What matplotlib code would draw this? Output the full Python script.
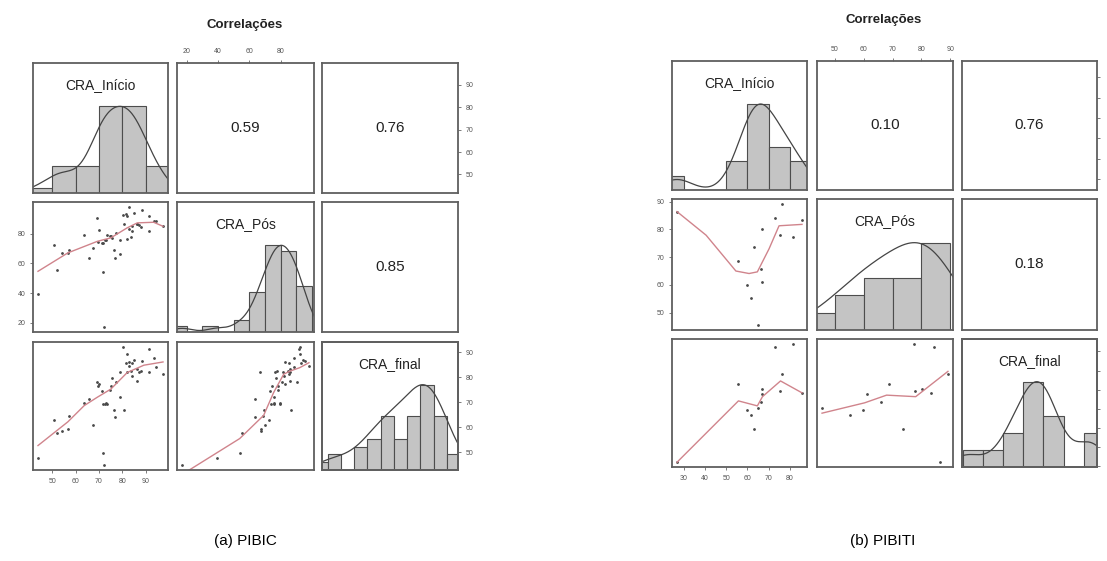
import numpy as np
import matplotlib
matplotlib.use("Agg")
import matplotlib.pyplot as plt

plt.rcParams["font.family"] = ["Liberation Sans", "DejaVu Sans"]

# PIBIC students: CRA at entry, during the programme and at the end
pibic_inicio = [72.3, 43.9, 71.7, 52.1, 54.0, 56.7, 67.3, 50.7, 57.1, 76.8,
                76.3, 80.8, 71.8, 72.6, 73.3, 63.7, 65.9, 79.1, 71.3, 74.8,
                75.1, 70.1, 69.1, 86.2, 75.5, 84.3, 97.5, 79.1, 82.2, 87.2,
                91.4, 83.6, 86.5, 84.3, 82.9, 88.6, 93.5, 82.2, 91.4, 80.5,
                69.8, 73.0, 77.5, 83.0, 85.0, 88.0, 81.5, 94.5]
pibic_pos = [17.0, 39.3, 53.8, 55.3, 67.2, 67.2, 70.2, 72.3, 68.7, 63.6,
             69.2, 86.6, 73.8, 75.5, 79.3, 79.3, 63.4, 75.5, 73.4, 78.1,
             78.1, 82.7, 90.6, 86.2, 77.0, 81.9, 85.0, 66.5, 76.4, 85.6,
             81.6, 77.5, 86.2, 85.1, 82.9, 95.7, 88.3, 92.1, 91.7, 92.2,
             74.5, 76.0, 80.5, 98.0, 94.0, 84.5, 93.0, 88.5]
pibic_final = [44.8, 47.6, 49.8, 57.9, 58.5, 59.5, 61.1, 63.1, 64.6, 64.2,
               66.8, 67.0, 69.5, 69.2, 69.4, 69.8, 71.4, 72.0, 74.6, 74.8,
               76.7, 77.3, 78.2, 78.6, 79.8, 80.6, 81.3, 82.0, 82.0, 82.0,
               82.0, 82.6, 83.5, 85.9, 86.0, 86.6, 87.9, 89.2, 91.5, 92.3,
               76.5, 69.7, 78.0, 84.5, 87.0, 82.5, 85.6, 84.0]

# PIBITI students
pibiti_inicio = [26.9, 55.8, 59.6, 61.9, 63.0, 65.0, 66.4, 66.9, 67.1, 73.0,
                 75.2, 76.1, 81.4, 85.7]
pibiti_pos = [86.4, 68.7, 59.8, 55.2, 73.6, 45.5, 65.9, 61.0, 80.2, 84.2,
              77.8, 89.2, 77.3, 83.3]
pibiti_final = [46.1, 66.6, 59.7, 58.3, 54.7, 60.3, 61.9, 63.8, 65.3, 76.1,
                64.6, 69.0, 77.0, 64.2]

var_names = ["CRA_Início", "CRA_Pós", "CRA_final"]

# correlations printed in the upper panels: (ini, pos), (ini, final), (pos, final)
pibic_cor = ["0.59", "0.76", "0.85"]
pibiti_cor = ["0.10", "0.76", "0.18"]

# histogram breaks for each variable
pibic_breaks = [np.arange(40, 101, 10), np.arange(10, 101, 10), np.arange(40, 96, 5)]
pibiti_breaks = [np.arange(20, 91, 10), np.arange(40, 91, 10), np.arange(45, 81, 5)]

# axis ticks for each variable
pibic_ticks = [[50, 60, 70, 80, 90], [20, 40, 60, 80], [50, 60, 70, 80, 90]]
pibiti_ticks = [[30, 40, 50, 60, 70, 80], [50, 60, 70, 80, 90], [45, 50, 55, 60, 65, 70, 75]]

# lowess smooths (x, y) for the lower panels
pibic_smooth = {
    (1, 0): ([43.9, 56.7, 69.4, 75.1, 82.2, 86.5, 93.5, 97.5],
             [54.6, 67.0, 74.8, 77.1, 83.9, 87.2, 87.6, 84.9]),
    (2, 0): ([43.9, 56.7, 63.7, 69.4, 75.1, 82.2, 89.3, 97.5],
             [52.7, 62.2, 68.7, 72.1, 75.3, 82.0, 84.9, 86.2]),
    (2, 1): ([17.0, 53.8, 69.1, 75.5, 81.9, 86.2, 92.1, 98.0],
             [41.1, 55.5, 64.8, 74.0, 81.3, 82.6, 83.9, 85.9]),
}
pibiti_smooth = {
    (1, 0): ([26.9, 40.6, 54.6, 60.8, 64.7, 70.2, 74.9, 85.7],
             [86.4, 77.9, 65.0, 64.1, 64.7, 73.0, 81.3, 81.8]),
    (2, 0): ([26.9, 55.8, 64.7, 67.1, 75.6, 85.7],
             [46.1, 62.1, 60.8, 63.2, 67.3, 64.2]),
    (2, 1): ([45.5, 60.3, 67.9, 78.0, 89.2],
             [58.9, 61.6, 63.6, 63.2, 69.8]),
}

W, H = 1107, 561
FRAME = "#5f5f5f"
TICK_KW = dict(direction="out", length=2.5, width=0.6, colors="#666666",
               labelsize=5, labelcolor="#555555", pad=3)


def px_box(x0, x1, y0, y1):
    return [x0 / W, 1 - y1 / H, (x1 - x0) / W, (y1 - y0) / H]


def padded(v):
    lo, hi = min(v), max(v)
    d = 0.04 * (hi - lo)
    return lo - d, hi + d


def density(v):
    # gaussian kernel, bandwidth "nrd" scaled by 1.2
    v = np.asarray(v, dtype=float)
    iqr = np.subtract(*np.percentile(v, [75, 25]))
    bw = 1.06 * min(np.std(v, ddof=1), iqr / 1.34) * len(v) ** -0.2 * 1.2
    grid = np.linspace(v.min() - 3 * bw, v.max() + 3 * bw, 512)
    d = np.exp(-0.5 * ((grid[:, None] - v[None, :]) / bw) ** 2).sum(axis=1)
    return grid, d / d.max()


def style(ax):
    ax.set_xticks([])
    ax.set_yticks([])
    for s in ax.spines.values():
        s.set_color(FRAME)
        s.set_linewidth(1.3)


def pairs(fig, cols, rows, data, breaks, ticks, cors, smooth, right_labels=True):
    lims = [padded(v) for v in data]
    cor_idx = {(0, 1): 0, (0, 2): 1, (1, 2): 2}
    for i in range(3):
        for j in range(3):
            ax = fig.add_axes(px_box(cols[j][0], cols[j][1], rows[i][0], rows[i][1]))
            style(ax)
            ax.set_xlim(lims[j])
            if i == j:
                counts, edges = np.histogram(data[i], bins=breaks[i])
                ax.bar(edges[:-1], counts / counts.max(), width=np.diff(edges),
                       align="edge", color="#c4c4c4", edgecolor="#4d4d4d", linewidth=0.8)
                gx, gy = density(data[i])
                ax.plot(gx, gy, color="#444444", lw=0.9)
                ax.set_ylim(0, 1.5)
                ax.text(0.5, 0.83, var_names[i], transform=ax.transAxes,
                        ha="center", va="center", fontsize=10, color="#222222")
            elif i > j:
                ax.set_ylim(lims[i])
                ax.plot(data[j], data[i], linestyle="none", marker=".",
                        ms=2.0, color="#4a4a4a")
                sx, sy = smooth[(i, j)]
                ax.plot(sx, sy, color="#d0848c", lw=1.0)
            else:
                ax.set_ylim(lims[i])
                ax.text(0.5, 0.5, cors[cor_idx[(i, j)]], transform=ax.transAxes,
                        ha="center", va="center", fontsize=11, color="#222222")

            # outer axes alternate sides like an R pairs plot
            if i == 0 and j % 2 == 1:
                ax.xaxis.tick_top()
                ax.set_xticks(ticks[j])
            if i == 2 and j % 2 == 0:
                ax.set_xticks(ticks[j])
            if j == 0 and i % 2 == 1:
                ax.set_yticks(ticks[i])
            if j == 2 and i % 2 == 0:
                target = ax
                if i == j:
                    target = ax.twinx()
                    target.set_ylim(lims[i])
                    style(target)
                else:
                    ax.yaxis.tick_right()
                target.set_yticks(ticks[i])
                if not right_labels:
                    # these labels fall past the right edge of the figure
                    target.set_yticklabels([])
                target.tick_params(**TICK_KW)
            ax.tick_params(**TICK_KW)


fig = plt.figure(figsize=(W / 100, H / 100), dpi=100)

pairs(fig,
      cols=[(33, 168), (177, 314), (322, 458)],
      rows=[(63, 193), (202, 332), (342, 470)],
      data=[pibic_inicio, pibic_pos, pibic_final],
      breaks=pibic_breaks, ticks=pibic_ticks, cors=pibic_cor, smooth=pibic_smooth)

pairs(fig,
      cols=[(672, 807), (817, 953), (962, 1097)],
      rows=[(61, 190), (199, 330), (339, 467)],
      data=[pibiti_inicio, pibiti_pos, pibiti_final],
      breaks=pibiti_breaks, ticks=pibiti_ticks, cors=pibiti_cor, smooth=pibiti_smooth,
      right_labels=False)

fig.text(245 / W, 1 - 25 / H, "Correlações", ha="center", va="center",
         fontsize=9.5, fontweight="bold", color="#222222")
fig.text(884 / W, 1 - 20 / H, "Correlações", ha="center", va="center",
         fontsize=9.5, fontweight="bold", color="#222222")

fig.text(245 / W, 1 - 541 / H, "(a) PIBIC", ha="center", va="center", fontsize=11)
fig.text(883 / W, 1 - 541 / H, "(b) PIBITI", ha="center", va="center", fontsize=11)

fig.savefig("out.png", dpi=100)
